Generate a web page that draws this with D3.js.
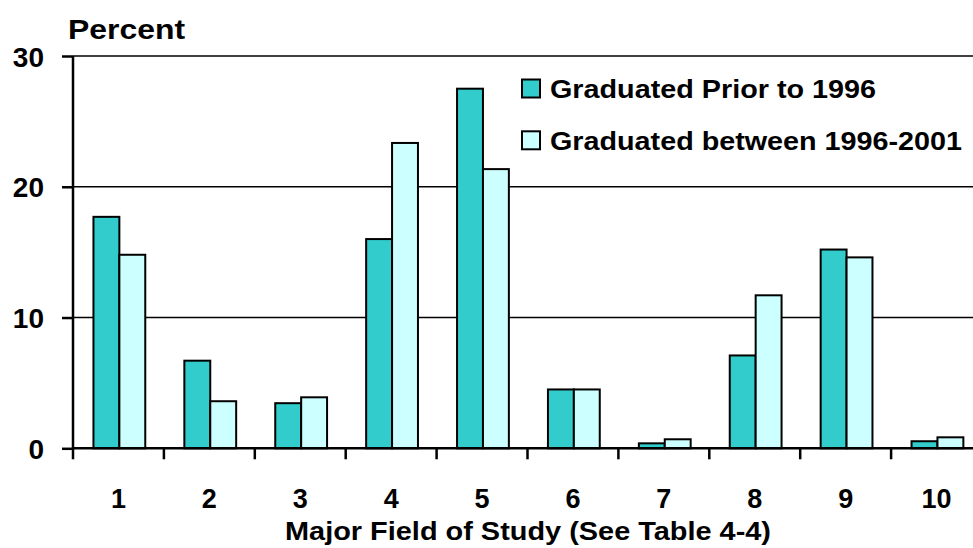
<!DOCTYPE html>
<html><head><meta charset="utf-8">
<script src="https://cdn.jsdelivr.net/npm/d3@7"></script>
<style>body{margin:0;background:#fff;overflow:hidden}svg{display:block}text{font-family:"Liberation Sans",Arial,sans-serif;font-weight:bold;fill:#000}</style>
</head><body>
<svg id="c" width="973" height="548"></svg>
<script>
const categories = ["1","2","3","4","5","6","7","8","9","10"];
const seriesNames = ["Graduated Prior to 1996","Graduated between 1996-2001"];
const prior1996 = [17.7, 6.7, 3.45, 16.0, 27.5, 4.5, 0.38, 7.1, 15.2, 0.54];
const between1996_2001 = [14.8, 3.6, 3.9, 23.35, 21.35, 4.5, 0.69, 11.7, 14.6, 0.84];
const yTicks = [0, 10, 20, 30];
const colors = ["#33CCCC", "#CCFFFF"];

const svg = d3.select("#c");
const x0 = d3.scaleBand().domain(categories).range([73, 982]).padding(0);
const bw = x0.bandwidth();
const x1 = d3.scaleBand().domain(seriesNames).range([bw*0.225, bw*0.795]).padding(0);
const y = d3.scaleLinear().domain([0, 30]).range([448.3, 56]);

// gridlines
svg.append("g").selectAll("line").data(yTicks.filter(d=>d>0)).join("line")
  .attr("x1", 73).attr("x2", 982).attr("y1", d=>y(d)).attr("y2", d=>y(d))
  .attr("stroke", "#000").attr("stroke-width", 1.5);

// bars
const data = categories.map((c,i)=>({c, vals:[prior1996[i], between1996_2001[i]]}));
svg.append("g").selectAll("g").data(data).join("g")
  .attr("transform", d=>`translate(${x0(d.c)},0)`)
  .selectAll("rect").data(d=>d.vals.map((v,j)=>({s:seriesNames[j], v, j}))).join("rect")
  .attr("x", d=>x1(d.s)).attr("width", x1.bandwidth())
  .attr("y", d=>y(d.v)).attr("height", d=>y(0)-y(d.v))
  .attr("fill", d=>colors[d.j]).attr("stroke", "#000").attr("stroke-width", 2);

// y axis
const yAxis = d3.axisLeft(y).tickValues(yTicks).tickSize(11).tickPadding(18).tickFormat(d3.format("d"));
const gy = svg.append("g").attr("transform", "translate(73,0)").call(yAxis);
gy.select(".domain").attr("stroke-width", 2.5).attr("d", `M0,${y(30)}V${y(0)}`);
gy.selectAll(".tick line").attr("stroke-width", 2.5);
gy.selectAll(".tick text").style("font-size", "28px").style("font-family", '"Liberation Sans",Arial,sans-serif').style("font-weight", "bold").attr("dy", "0.36em");

// x axis line and ticks (ticks at band boundaries)
svg.append("line").attr("x1", 73).attr("x2", 982).attr("y1", y(0)).attr("y2", y(0))
  .attr("stroke", "#000").attr("stroke-width", 2.5);
const bounds = categories.map(c=>x0(c));
svg.append("g").selectAll("line").data(bounds).join("line")
  .attr("x1", d=>d).attr("x2", d=>d).attr("y1", y(0)).attr("y2", y(0)+11)
  .attr("stroke", "#000").attr("stroke-width", 2.5);
svg.append("g").selectAll("text").data(categories).join("text")
  .attr("x", d=>x0(d)+bw/2).attr("y", 508).attr("text-anchor", "middle")
  .style("font-size", "27px").text(d=>d);

// titles
svg.append("text").attr("x", 285).attr("y", 540)
  .attr("textLength", 486).attr("lengthAdjust", "spacingAndGlyphs")
  .style("font-size", "26px").text("Major Field of Study (See Table 4-4)");
svg.append("text").attr("x", 68).attr("y", 39)
  .attr("textLength", 117).attr("lengthAdjust", "spacingAndGlyphs")
  .style("font-size", "28px").text("Percent");

// legend
const legendWidths = [326, 412];
const leg = svg.append("g").selectAll("g").data(seriesNames).join("g")
  .attr("transform", (d,i)=>`translate(522,${79.5 + i*51.8})`);
leg.append("rect").attr("width", 18).attr("height", 18)
  .attr("fill", (d,i)=>colors[i]).attr("stroke", "#000").attr("stroke-width", 2);
leg.append("text").attr("x", 28).attr("y", 18.5)
  .attr("textLength", (d,i)=>legendWidths[i]).attr("lengthAdjust", "spacingAndGlyphs")
  .style("font-size", "26px").text(d=>d);
</script>
</body></html>
